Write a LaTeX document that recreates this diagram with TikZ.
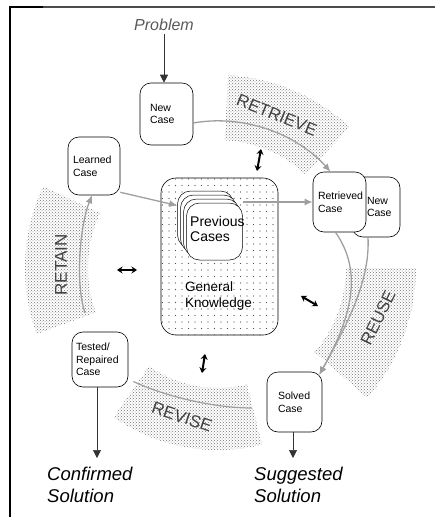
\documentclass[tikz,border=0pt]{standalone}
\usepackage{fontspec}
\setmainfont{Liberation Sans}
\usetikzlibrary{arrows.meta,patterns,calc}
\pgfdeclarepatternformonly{sparsedots}{\pgfqpoint{-1pt}{-1pt}}{\pgfqpoint{1pt}{1pt}}{\pgfqpoint{6.5pt}{6.5pt}}{\pgfpathcircle{\pgfqpoint{0pt}{0pt}}{0.55pt}\pgfusepath{fill}}
\begin{document}
\begin{tikzpicture}[x=1pt,y=-1pt,
  casebox/.style={draw, line width=0.6pt, rounded corners=11pt, fill=white, inner xsep=0pt, inner ysep=2pt, align=left, font=\fontsize{10.5}{12.5}\selectfont},
  stackbox/.style={draw, line width=0.5pt, rounded corners=13pt, fill=white, minimum width=56pt, minimum height=57pt, inner sep=0pt},
  flow/.style={draw=gray!75, line width=1.3pt, -{Latex[length=8pt,width=7pt]}},
  ringline/.style={draw=gray!75, line width=1.2pt},
  band/.style={pattern=crosshatch dots, pattern color=black!55},
  bandlabel/.style={font=\fontsize{17}{17}\selectfont, text=black!75},
  outarrow/.style={draw=black!80, line width=0.7pt, -{Triangle[length=8pt,width=8pt]}},
  icon/.style={line width=2pt, {Stealth[length=5.5pt,width=7pt]}-{Stealth[length=5.5pt,width=7pt]}}
]
\useasboundingbox (0,0) rectangle (435,517);
% frame
\draw[line width=2pt, black] (10,517) -- (10,7) -- (43,7);
\draw[line width=2pt, black!70] (43,7) -- (435,7);

% ring centre
\coordinate (C) at (218,268);
% bands
\path[band] ($(C)+(-87:128)$) arc[start angle=-87, end angle=-47, radius=128] -- ($(C)+(-47:193)$) arc[start angle=-47, end angle=-87, radius=193] -- cycle;
\path[band] ($(C)+(0:128)$) arc[start angle=0, end angle=41, radius=128] -- ($(C)+(41:198)$) arc[start angle=41, end angle=0, radius=198] -- cycle;
\path[band] ($(C)+(76:120)$) arc[start angle=76, end angle=125, radius=120] -- ($(C)+(125:182)$) arc[start angle=125, end angle=76, radius=182] -- cycle;
\path[band] ($(C)+(160:130)$) arc[start angle=160, end angle=205, radius=130] -- ($(C)+(205:193)$) arc[start angle=205, end angle=160, radius=193] -- cycle;

% band labels
\node[bandlabel, rotate=-22] (lretrieve) at (277,115) {RETRIEVE};
\node[bandlabel, rotate=90] (lretain) at (61,265) {RETAIN};
\node[bandlabel, rotate=64] (lreuse) at (378,318) {REUSE};
\node[bandlabel, rotate=-19] (lrevise) at (182,417) {REVISE};

% general knowledge
\node[draw, line width=0.6pt, rounded corners=15pt, minimum width=117pt, minimum height=157pt, inner sep=0pt, fill=white, postaction={pattern=sparsedots, pattern color=black!70}] (gk) at (219.5,256.5) {};
\foreach \k in {0,1,2,3} \node[stackbox] (prev\k) at (205.5+3*\k, 219.5+4*\k) {};
\node[anchor=north west, inner sep=0pt, align=left, font=\fontsize{14}{15}\selectfont] (prevtext) at (190,216) {Previous\\Cases};
\node[anchor=north west, inner sep=0pt, align=left, font=\fontsize{13.5}{15.5}\selectfont] (gktext) at (185,282) {General\\Knowledge};

% case boxes
\node[casebox, minimum width=53pt, minimum height=62pt, text width=33pt] (newcase) at (166.5,114) {New\\Case};
\node[casebox, minimum width=52pt, minimum height=58pt, text width=42pt] (learned) at (94,166) {Learned\\Case};
\node[casebox, minimum width=48pt, minimum height=60pt, text width=18pt] (newcase2) at (376,207) {New\\Case};
\node[casebox, minimum width=53pt, minimum height=60pt, text width=43pt] (retrieved) at (339.5,202) {Retrieved\\Case};
\node[casebox, minimum width=56pt, minimum height=55pt, text width=48pt] (tested) at (100,359.5) {Tested/\\Repaired\\Case};
\node[casebox, minimum width=55pt, minimum height=60pt, text width=33pt] (solved) at (294.5,402) {Solved\\Case};

% outer texts
\node[font=\itshape\fontsize{16}{16}\selectfont, text=black!65] (problem) at (164,25) {Problem};
\node[anchor=north west, inner sep=0pt, align=left, font=\itshape\fontsize{18.5}{22}\selectfont] (confirmed) at (47,467) {Confirmed\\Solution};
\node[anchor=north west, inner sep=0pt, align=left, font=\itshape\fontsize{18.5}{22}\selectfont] (suggested) at (254,467) {Suggested\\Solution};

% cycle connectors
\draw[flow] ([yshift=-9pt]newcase.east) .. controls +(50,-9) and +(-34,-38) .. ([xshift=-9pt]retrieved.north);
\draw[flow] ([xshift=-4pt]retrieved.south) .. controls +(28,40) and +(32,-57) .. ([xshift=-3pt,yshift=-3pt]solved.north east);
\draw[flow] ([xshift=-8pt]newcase2.south) .. controls +(2,40) and +(32,-57) .. ([xshift=-3pt,yshift=-3pt]solved.north east);
\coordinate (revisestart) at (252,408);
\draw[ringline] (revisestart) .. controls +(-40,0) and +(30,14) .. ([xshift=5pt,yshift=-22pt]tested.east);
\coordinate (retainstart) at (85,313);
\draw[flow] (retainstart) .. controls +(-10,-30) and +(-12,30) .. ([xshift=-2pt]learned.south);
\draw[flow] ([yshift=3pt]learned.south east) -- ([yshift=14pt]prev0.west);
\draw[flow] (prev3.east |- retrieved.west) -- (retrieved.west);

% in / out arrows
\draw[outarrow] (problem.south) -- (problem.south |- newcase.north);
\coordinate (confend) at (97,458);
\draw[outarrow] (tested.south -| confend) -- (confend);
\coordinate (suggend) at (293,458);
\draw[outarrow] (solved.south -| suggend) -- (suggend);

% double arrows
\coordinate (i1a) at (257,171); \coordinate (i1b) at (261,149);
\draw[icon] (i1a) -- (i1b);
\coordinate (i2a) at (117,270); \coordinate (i2b) at (137,270);
\draw[icon] (i2a) -- (i2b);
\coordinate (i3a) at (301,296); \coordinate (i3b) at (318,306);
\draw[icon] (i3a) -- (i3b);
\coordinate (i4a) at (205,354); \coordinate (i4b) at (202,373);
\draw[icon] (i4a) -- (i4b);
\end{tikzpicture}
\end{document}
